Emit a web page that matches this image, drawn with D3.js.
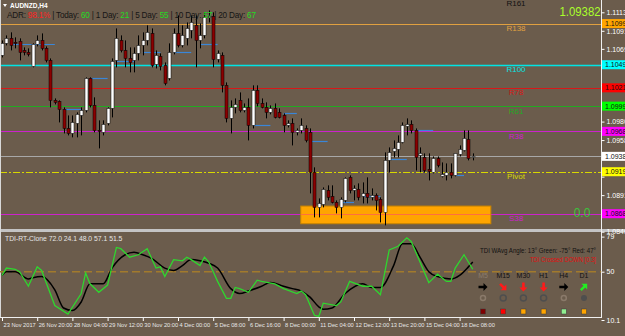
<!DOCTYPE html>
<html>
<head>
<meta charset="utf-8">
<title>AUDNZD,H4</title>
<script src="https://d3js.org/d3.v7.min.js"></script>
<style>
  html, body { margin: 0; padding: 0; background: #6b5c4c; overflow: hidden; }
  svg { display: block; font-family: "Liberation Sans", Arial, sans-serif; }
</style>
</head>
<body>
<svg id="chart"></svg>
<script>
const width = 625, height = 336;

// H4 candles, [open, high, low, close]
const candles = [
  [1.10611,1.10793,1.10586,1.10757],[1.10757,1.10854,1.10732,1.10818],[1.10818,1.10891,1.10671,1.10732],
  [1.10769,1.10830,1.10696,1.10757],[1.10781,1.10818,1.10550,1.10647],[1.10671,1.10708,1.10611,1.10647],
  [1.10647,1.10696,1.10598,1.10623],[1.10477,1.10757,1.10465,1.10745],[1.10745,1.10854,1.10720,1.10793],
  [1.10793,1.10878,1.10671,1.10696],[1.10696,1.10720,1.10525,1.10550],[1.10550,1.10574,1.09978,1.10063],
  [1.10063,1.10087,1.10014,1.10039],[1.10051,1.10063,1.09795,1.09953],[1.09953,1.09978,1.09661,1.09722],
  [1.09722,1.09880,1.09637,1.09661],[1.09661,1.09880,1.09613,1.09795],[1.09783,1.09917,1.09613,1.09893],
  [1.09880,1.09978,1.09637,1.09941],[1.09941,1.10343,1.09917,1.10331],[1.10331,1.10343,1.09978,1.10002],
  [1.10002,1.10100,1.09674,1.09698],[1.09698,1.09820,1.09479,1.09686],[1.09674,1.09820,1.09637,1.09771],
  [1.09783,1.09978,1.09759,1.09966],[1.09966,1.10574,1.09856,1.10538],[1.10550,1.10939,1.10465,1.10818],
  [1.10793,1.10854,1.10647,1.10671],[1.10671,1.10793,1.10465,1.10574],[1.10574,1.10708,1.10404,1.10525],
  [1.10550,1.10708,1.10404,1.10635],[1.10635,1.10854,1.10550,1.10732],[1.10732,1.10891,1.10611,1.10793],
  [1.10793,1.10976,1.10732,1.10891],[1.10878,1.10939,1.10465,1.10489],[1.10501,1.10671,1.10452,1.10611],
  [1.10598,1.10635,1.10428,1.10477],[1.10489,1.10525,1.10246,1.10270],[1.10331,1.10757,1.10306,1.10647],
  [1.10647,1.10939,1.10623,1.10878],[1.10878,1.11097,1.10708,1.10732],[1.10732,1.10976,1.10708,1.10854],
  [1.10818,1.11012,1.10732,1.10939],[1.10915,1.11097,1.10818,1.11012],[1.10976,1.11097,1.10465,1.10793],
  [1.10793,1.11000,1.10696,1.10854],[1.10854,1.11134,1.10818,1.11073],[1.11073,1.11158,1.11012,1.11085],
  [1.11085,1.11134,1.10465,1.10562],[1.10562,1.10671,1.10525,1.10635],[1.10611,1.10647,1.10160,1.10246],
  [1.10246,1.10282,1.09795,1.09844],[1.09844,1.10063,1.09661,1.09978],[1.09978,1.10087,1.09905,1.10014],
  [1.10063,1.10160,1.09917,1.09941],[1.09941,1.10026,1.09917,1.09978],[1.09978,1.10087,1.09576,1.09759],
  [1.09759,1.10246,1.09722,1.10185],[1.10185,1.10246,1.09990,1.10026],[1.10026,1.10087,1.09966,1.09978],
  [1.09978,1.10039,1.09844,1.09917],[1.09917,1.10002,1.09893,1.09966],[1.09966,1.10026,1.09844,1.09856],
  [1.09917,1.09966,1.09844,1.09856],[1.09880,1.09905,1.09674,1.09759],[1.09759,1.09820,1.09734,1.09783],
  [1.09783,1.09844,1.09515,1.09674],[1.09674,1.09722,1.09637,1.09698],[1.09698,1.09844,1.09661,1.09759],
  [1.09722,1.09759,1.09552,1.09576],[1.09674,1.09722,1.08931,1.09187],[1.09187,1.09248,1.08639,1.08761],
  [1.08761,1.08870,1.08639,1.08809],[1.08797,1.09004,1.08761,1.08980],[1.08968,1.09029,1.08846,1.08883],
  [1.08895,1.09029,1.08809,1.08822],[1.08822,1.08846,1.08688,1.08761],[1.08761,1.08883,1.08627,1.08858],
  [1.08846,1.09126,1.08822,1.09114],[1.09126,1.09150,1.08931,1.08968],[1.08968,1.09029,1.08846,1.08992],
  [1.08980,1.09053,1.08846,1.08883],[1.08895,1.09065,1.08809,1.08931],[1.08931,1.09126,1.08809,1.08883],
  [1.08883,1.08992,1.08846,1.08907],[1.08907,1.08931,1.08724,1.08846],[1.08858,1.08883,1.08578,1.08700],
  [1.08700,1.09430,1.08542,1.09333],[1.09333,1.09491,1.09187,1.09430],[1.09442,1.09576,1.09369,1.09479],
  [1.09467,1.09637,1.09369,1.09552],[1.09552,1.09795,1.09540,1.09759],[1.09747,1.09844,1.09637,1.09771],
  [1.09771,1.09820,1.09661,1.09698],[1.09698,1.09722,1.09211,1.09369],[1.09394,1.09491,1.09187,1.09418],
  [1.09369,1.09418,1.09187,1.09211],[1.09223,1.09418,1.09089,1.09199],[1.09187,1.09381,1.09175,1.09357],
  [1.09357,1.09381,1.09248,1.09272],[1.09138,1.09308,1.09126,1.09162],[1.09150,1.09296,1.09089,1.09187],
  [1.09187,1.09296,1.09114,1.09150],[1.09150,1.09418,1.09138,1.09418],[1.09406,1.09515,1.09381,1.09467],
  [1.09454,1.09698,1.09442,1.09601],[1.09588,1.09698,1.09333,1.09357],[1.09369,1.09418,1.09333,1.09382]
];

const timeBars = [0, 8, 16, 24, 32, 40, 48, 56, 64, 72, 80, 88, 96, 104];
const timeLabels = ["23 Nov 2017", "26 Nov 20:00", "28 Nov 04:00", "29 Nov 12:00", "30 Nov 20:00",
  "4 Dec 00:00", "5 Dec 08:00", "6 Dec 16:00", "8 Dec 00:00", "11 Dec 04:00", "12 Dec 12:00",
  "13 Dec 20:00", "15 Dec 04:00", "18 Dec 08:00"];

const priceTicks = [1.11135, 1.10910, 1.10690, 1.10470, 1.10250, 1.10025, 1.09805,
  1.09580, 1.09360, 1.09135, 1.08910, 1.08690, 1.08465];

// pivot levels
const levelNames  = ["R161", "R138", "R100", "R78", "R61", "R38", "Pivot", "S38"];
const levelPrices = [1.11302, 1.10998, 1.10497, 1.10216, 1.09993, 1.09686, 1.09195, 1.08684];
const currentPrice = 1.09382;

// support zone: bars and prices
const zoneBars = [67.9, 111.1];
const zonePrices = [1.08777, 1.08562];
const zoneValue = "0.0";

// short blue marks: [fromBar, toBar, price]
const blueMarks = [[2,12,1.10745],[14,18,1.09953],[20,24,1.10331],[26,30,1.10538],[32,36,1.10647],
  [39,43,1.10647],[45,49,1.10745],[57,61,1.09759],[64,67,1.09905],[70,74,1.09564],[77,80,1.08822],
  [82,86,1.08895],[88,92,1.09345],[94,98,1.09698],[103,105,1.09150]];

// TDI: [bar, value]
const tdiGreen = [[0,47],[1,53],[3,52],[4,50],[6,38],[8,54],[9,51],[12,22],[15,15],[18,32],[19,49],[20,40],
  [22,33],[24,39],[26,70],[27,69],[29,62],[31,64],[33,69],[35,53],[36,54],[37,46],[39,60],[41,59],[42,62],
  [43,60],[45,55],[46,62],[47,58],[49,42],[51,28],[52,28],[53,37],[54,36],[56,33],[58,43],[59,42],[62,40],
  [64,36],[67,32],[68,34],[69,31],[71,14],[72,13],[73,24],[76,22],[77,25],[79,42],[82,38],[84,38],[86,31],
  [88,68],[90,71],[92,78],[93,75],[95,58],[97,41],[99,48],[101,42],[102,42],[103,53],[105,64],[106,58],[107,52]];
const tdiSignal = [[0,47],[1,50],[3,50],[6,44],[7,45],[9,46],[12,35],[14,20],[16,18],[18,25],[20,40],[23,40],
  [25,53],[28,64],[30,66],[32,64],[34,61],[37,53],[39,51],[41,55],[43,60],[45,59],[47,57],[49,53],[52,36],
  [54,32],[56,34],[59,38],[61,41],[64,38],[66,36],[68,34],[70,29],[72,21],[73,19],[75,20],[78,32],[82,40],
  [84,37],[86,37],[89,55],[91,73],[93,73],[95,62],[97,50],[99,46],[102,44],[104,47],[106,54],[107,58]];
const tdiTicks = [79, 50, 10.1];
const tdiMid = 50;
const tdiTitle = "TDI-RT-Clone 72.0 24.1 48.0 57.1 51.5";

const timeframes = ["M5", "M15", "M30", "H1", "H4", "D1"];
const tfArrows = [0, 45, 90, 90, 0, -45];
const tfArrowColors = ["#000", "#ff1a1a", "#ff1a1a", "#ff1a1a", "#000", "#22ee22"];
const tfDots = ["dim", "ring", "ring", "ring", "dim", "fill"];
const tfSquares = ["#800000", "#ff0000", "#ffa500", "#ffa500", "#90ee90", "#ffa500"];

const adrPct = "98.1%";
const adrLabels = ["Today", "1 Day", "5 Day", "10 Day", "20 Day"];
const adrValues = [60, 21, 55, 57, 67];

const levelColors = { R161: "#111", R138: "#e0a040", R100: "#00e5e5", R78: "#d81818", R61: "#22aa22",
  R38: "#cc22cc", Pivot: "#d8d800", S38: "#cc22cc" };
const boxColors = { R138: "#ffa500", R100: "#00ffff", R78: "#ff0000", R61: "#00ff00",
  R38: "#ff00ff", Pivot: "#ffff00", S38: "#ff00ff" };

const svg = d3.select("#chart").attr("width", width).attr("height", height);
svg.append("rect").attr("width", width).attr("height", height).attr("fill", "#6b5c4c");

const plotRight = 601.5;
const x = d3.scaleLinear().domain([0, 107]).range([2, 472.8]);
const y = d3.scaleLinear().domain([1.08465, 1.11135]).range([231.7, 12.3]);
const yi = d3.scaleLinear().domain([10.1, 79]).range([320, 236.6]);
const px = v => Math.round(v) + 0.5;

const defs = svg.append("defs");
defs.append("clipPath").attr("id", "mainClip").append("rect").attr("x", 0).attr("y", 0).attr("width", plotRight).attr("height", 229);
defs.append("clipPath").attr("id", "subClip").append("rect").attr("x", 0).attr("y", 233).attr("width", plotRight).attr("height", 84);

const main = svg.append("g").attr("clip-path", "url(#mainClip)");

// level lines
const levels = levelNames.map((n, i) => ({ name: n, price: levelPrices[i] }));
main.selectAll(".lvl").data(levels).join("line")
  .attr("x1", 0).attr("x2", plotRight)
  .attr("y1", d => px(y(d.price))).attr("y2", d => px(y(d.price)))
  .attr("stroke", d => levelColors[d.name])
  .attr("stroke-width", d => d.name === "R100" ? 1.5 : 1)
  .attr("stroke-dasharray", d => d.name === "Pivot" ? "7,2,2,2" : null);

// current price line
main.append("line").attr("x1", 0).attr("x2", plotRight)
  .attr("y1", px(y(currentPrice))).attr("y2", px(y(currentPrice)))
  .attr("stroke", "#a8a8a8").attr("stroke-width", 1);

// zone
main.append("rect")
  .attr("x", x(zoneBars[0])).attr("width", x(zoneBars[1]) - x(zoneBars[0]))
  .attr("y", y(zonePrices[0])).attr("height", y(zonePrices[1]) - y(zonePrices[0]))
  .attr("fill", "#ffa500")
  .attr("stroke", "#c98400").attr("stroke-width", 1);
main.append("line")
  .attr("x1", x(zoneBars[0]) + 0.5).attr("x2", x(zoneBars[1]) - 0.5)
  .attr("y1", px(y(levelPrices[7]))).attr("y2", px(y(levelPrices[7])))
  .attr("stroke", "#ff4a6a").attr("stroke-opacity", 0.6);

// blue marks
main.selectAll(".bm").data(blueMarks).join("line")
  .attr("x1", d => x(d[0])).attr("x2", d => x(d[1]))
  .attr("y1", d => px(y(d[2]))).attr("y2", d => px(y(d[2])))
  .attr("stroke", "#3a86d8").attr("stroke-width", 1.2);

// candles
main.selectAll(".wick").data(candles).join("line")
  .attr("x1", (d, i) => px(x(i))).attr("x2", (d, i) => px(x(i)))
  .attr("y1", d => y(d[1])).attr("y2", d => y(d[2]))
  .attr("stroke", "#000").attr("stroke-width", 1);
main.selectAll(".body").data(candles).join("rect")
  .attr("x", (d, i) => Math.round(x(i)) - 1).attr("width", 3)
  .attr("y", d => y(Math.max(d[0], d[3])))
  .attr("height", d => Math.max(1, Math.abs(y(d[0]) - y(d[3]))))
  .attr("fill", d => d[3] >= d[0] ? "#ffffff" : "#8b0000")
  .attr("stroke", "#000").attr("stroke-width", 0.5);

// level names
main.selectAll(".lvlname").data(levels).join("text")
  .attr("x", 516).attr("y", d => y(d.price) + 7.5)
  .attr("text-anchor", "middle").attr("font-size", 8)
  .attr("fill", d => levelColors[d.name]).text(d => d.name);

main.append("text").attr("x", 582).attr("y", y(levelPrices[7]) + 3.5)
  .attr("text-anchor", "middle").attr("font-size", 12).attr("fill", "#3cc43c").text(zoneValue);

main.append("text").attr("x", 580).attr("y", 16)
  .attr("text-anchor", "middle").attr("font-size", 13.5)
  .attr("textLength", 41).attr("lengthAdjust", "spacingAndGlyphs")
  .attr("fill", "#aaff2a").text(currentPrice.toFixed(5));

// header texts
svg.append("path").attr("d", "M3,4 L7,4 L5,7 Z").attr("fill", "#fff");
svg.append("text").attr("x", 10).attr("y", 7.8).attr("font-size", 6.5).attr("font-weight", "bold")
  .attr("fill", "#fff").text("AUDNZD,H4");
const adr = svg.append("text").attr("x", 7).attr("y", 18).attr("font-size", 8.2).attr("fill", "#151515")
  .attr("textLength", 249).attr("lengthAdjust", "spacing");
adr.append("tspan").text("ADR: ");
adr.append("tspan").attr("fill", "#ff2222").text(adrPct);
adrLabels.forEach((l, i) => {
  adr.append("tspan").attr("fill", "#151515").text(" | " + l + ": ");
  adr.append("tspan").attr("fill", "#22dd22").text(adrValues[i]);
});

// frames and separator
svg.append("rect").attr("x", 0).attr("y", 229).attr("width", width).attr("height", 3).attr("fill", "#c4c4c4");
svg.append("line").attr("x1", plotRight).attr("x2", plotRight).attr("y1", 0).attr("y2", 318).attr("stroke", "#f0f0f0");
svg.append("line").attr("x1", 0.5).attr("x2", 0.5).attr("y1", 0).attr("y2", 318).attr("stroke", "#d8d8d8");
svg.append("line").attr("x1", 0).attr("x2", plotRight).attr("y1", 317.5).attr("y2", 317.5).attr("stroke", "#f0f0f0");

// price boxes
const boxes = levels.filter(d => boxColors[d.name]).map(d => ({ label: d.price.toFixed(5), price: d.price, color: boxColors[d.name] }));
boxes.push({ label: currentPrice.toFixed(5), price: currentPrice, color: "#ffffff" });

// price axis (labels hidden where a price box covers them)
const pAxis = svg.append("g").attr("transform", `translate(${plotRight},0)`)
  .call(d3.axisRight(y).tickValues(priceTicks).tickFormat(d3.format(".5f")).tickSize(3).tickPadding(2));
pAxis.select(".domain").remove();
pAxis.selectAll("line").attr("stroke", "#fff");
pAxis.selectAll("text").attr("fill", "#fff").attr("font-size", 7).attr("font-family", "Liberation Sans, Arial, sans-serif")
  .attr("display", d => boxes.some(b => Math.abs(y(b.price) - y(d)) < 6) ? "none" : null);

const bx = svg.append("g");
bx.selectAll("rect").data(boxes).join("rect")
  .attr("x", plotRight + 0.5).attr("width", 30).attr("y", d => y(d.price) - 4.5).attr("height", 9)
  .attr("fill", d => d.color);
bx.selectAll("text").data(boxes).join("text")
  .attr("x", plotRight + 3.5).attr("y", d => y(d.price) + 2.5).attr("font-size", 7)
  .attr("fill", "#111").text(d => d.label);

// indicator panel
const sub = svg.append("g").attr("clip-path", "url(#subClip)");
sub.append("line").attr("x1", 0).attr("x2", plotRight).attr("y1", yi(tdiMid)).attr("y2", yi(tdiMid))
  .attr("stroke", "#a27a2c").attr("stroke-width", 1.5).attr("stroke-dasharray", "8,4");
sub.append("path").datum(tdiSignal)
  .attr("d", d3.line().x(d => x(d[0])).y(d => yi(d[1])).curve(d3.curveMonotoneX))
  .attr("fill", "none").attr("stroke", "#000").attr("stroke-width", 1.5);
sub.append("path").datum(tdiGreen)
  .attr("d", d3.line().x(d => x(d[0])).y(d => yi(d[1])))
  .attr("fill", "none").attr("stroke", "#2fd62f").attr("stroke-width", 1.3);

svg.append("text").attr("x", 5).attr("y", 240.5).attr("font-size", 6.8).attr("fill", "#e6e6e6").text(tdiTitle);

const iAxis = svg.append("g").attr("transform", `translate(${plotRight},0)`)
  .call(d3.axisRight(yi).tickValues(tdiTicks).tickFormat(d => String(d)).tickSize(3).tickPadding(2));
iAxis.select(".domain").remove();
iAxis.selectAll("line").attr("stroke", "#fff");
iAxis.selectAll("text").attr("fill", "#fff").attr("font-size", 7).attr("font-family", "Liberation Sans, Arial, sans-serif");

// TDI info block
const info = svg.append("g").attr("font-size", 7);
info.append("text").attr("x", 596).attr("y", 252.5).attr("text-anchor", "end").attr("fill", "#111")
  .attr("textLength", 116).attr("lengthAdjust", "spacingAndGlyphs")
  .text("TDI WAvg Angle: 13°  Green: -75°  Red: 47°");
info.append("text").attr("x", 596).attr("y", 261.5).attr("text-anchor", "end").attr("fill", "#e01010")
  .attr("textLength", 66).attr("lengthAdjust", "spacingAndGlyphs")
  .text("TDI Crossed DOWN [0.3]");
const tfX = d3.scalePoint().domain(timeframes).range([483, 584]);
info.selectAll(".tf").data(timeframes).join("text")
  .attr("x", d => tfX(d)).attr("y", 277.5).attr("text-anchor", "middle")
  .attr("fill", (d, i) => i === 0 ? "#8c7c6c" : "#111").text(d => d);
info.selectAll(".arr").data(timeframes).join("path")
  .attr("d", "M-4.5,-1.3 L0.5,-1.3 L0.5,-4 L4.5,0 L0.5,4 L0.5,1.3 L-4.5,1.3 Z")
  .attr("transform", (d, i) => `translate(${tfX(d)},287) rotate(${tfArrows[i]})`)
  .attr("fill", (d, i) => tfArrowColors[i]);
info.selectAll(".dot").data(timeframes).join("circle")
  .attr("cx", d => tfX(d)).attr("cy", 298).attr("r", (d, i) => tfDots[i] === "dim" ? 2.5 : 3)
  .attr("fill", (d, i) => tfDots[i] === "fill" ? "#4e4e4e" : "none")
  .attr("stroke", (d, i) => tfDots[i] === "dim" ? "#8a7a6a" : "#4e4e4e")
  .attr("stroke-width", (d, i) => tfDots[i] === "fill" ? 0 : 1.5);
info.selectAll(".sq").data(timeframes).join("rect")
  .attr("x", d => tfX(d) - 2.5).attr("y", 309).attr("width", 5).attr("height", 5)
  .attr("fill", (d, i) => tfSquares[i]).attr("stroke", "#3a3a3a").attr("stroke-width", 0.5);

// time axis
const tAxis = svg.append("g").attr("transform", "translate(0,318)")
  .call(d3.axisBottom(x).tickValues(timeBars).tickFormat((d, i) => timeLabels[i]).tickSize(3).tickPadding(2));
tAxis.select(".domain").remove();
tAxis.selectAll("line").attr("stroke", "#fff");
tAxis.selectAll("text").attr("fill", "#e8e8e8").attr("font-size", 5.7)
  .attr("text-anchor", "start").attr("dx", 1).attr("font-family", "Liberation Sans, Arial, sans-serif");
</script>
</body>
</html>
